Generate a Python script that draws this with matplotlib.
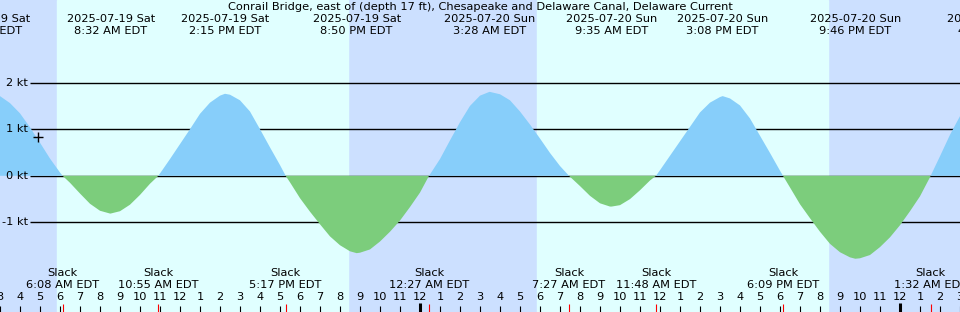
"""
Tidal current graph, Conrail Bridge (C&D Canal)
"""

from datetime import datetime, timedelta
import numpy as np
from matplotlib import pyplot as plt

TITLE = 'Conrail Bridge, east of (depth 17 ft), Chesapeake and Delaware Canal, Delaware Current'
START = datetime(2025, 7, 19, 3, 0)
SPAN_H = 48

# current every half hour from 3 AM Jul 19 (kt, + = flood)
current_kt = [
    1.71, 1.56, 1.34, 1.04, 0.71, 0.37, 0.07, -0.15, -0.38, -0.60,
    -0.75, -0.81, -0.76, -0.62, -0.41, -0.17, 0.05, 0.36, 0.68, 1.00,
    1.33, 1.57, 1.72, 1.74, 1.62, 1.38, 1.00, 0.61, 0.23, -0.14,
    -0.48, -0.77, -1.04, -1.30, -1.49, -1.62, -1.65, -1.58, -1.41, -1.20,
    -0.96, -0.67, -0.36, 0.03, 0.36, 0.76, 1.15, 1.50, 1.72, 1.80,
    1.75, 1.62, 1.38, 1.10, 0.80, 0.49, 0.21, -0.02, -0.22, -0.43,
    -0.59, -0.66, -0.63, -0.50, -0.31, -0.10, 0.12, 0.43, 0.74, 1.05,
    1.36, 1.57, 1.69, 1.66, 1.51, 1.23, 0.86, 0.49, 0.11, -0.25,
    -0.61, -0.91, -1.20, -1.46, -1.64, -1.75, -1.77, -1.70, -1.53, -1.32,
    -1.06, -0.76, -0.44, -0.03, 0.42, 0.88, 1.28,
]

extreme_times = ['2025-07-19 02:18', '2025-07-19 08:32', '2025-07-19 14:15',
                 '2025-07-19 20:50', '2025-07-20 03:28', '2025-07-20 09:35',
                 '2025-07-20 15:08', '2025-07-20 21:46', '2025-07-21 04:42']
extreme_kt = [1.76, -0.81, 1.76, -1.66, 1.80, -0.66, 1.71, -1.78, 1.75]

slack_times = ['2025-07-19 06:08', '2025-07-19 10:55', '2025-07-19 17:17',
               '2025-07-20 00:27', '2025-07-20 07:27', '2025-07-20 11:48',
               '2025-07-20 18:09', '2025-07-21 01:32']

sunrise_times = ['2025-07-19 05:50', '2025-07-20 05:50']
sunset_times = ['2025-07-19 20:24', '2025-07-20 20:24']

grid_kt = [2, 1, 0, -1]

DAY = '#e0ffff'
NIGHT = '#cce0ff'
FLOOD = '#87cefa'
EBB = '#7ccd7c'
FS = 8.2


def parse(s):
    return datetime.strptime(s, '%Y-%m-%d %H:%M')


def hrs(dt):
    return (dt - START).total_seconds() / 3600


def clock(dt):
    return dt.strftime('%I:%M %p').lstrip('0') + ' EDT'


def px(y):
    # pixel row (from top) -> axes fraction
    return 1 - y / 312


def main():
    fig = plt.figure(figsize=(9.6, 3.12), dpi=100)
    ax = fig.add_axes([0, 0, 1, 1])
    ax.set_xlim(0, SPAN_H)
    ax.set_ylim((175.8 - 312) / 46.6, 175.8 / 46.6)
    ax.axis('off')
    tr = ax.get_xaxis_transform()

    # day / night background
    ax.axvspan(0, SPAN_H, color=NIGHT, zorder=0)
    for rise, sset in zip(sunrise_times, sunset_times):
        ax.axvspan(hrs(parse(rise)), hrs(parse(sset)), color=DAY, zorder=0)

    ax.hlines(grid_kt, 1.5, SPAN_H, color='black', lw=1, zorder=1)
    for g in grid_kt:
        ax.text(1.4, g, f'{g} kt', ha='right', va='center', fontsize=FS, zorder=5)

    # curve: half-hour readings plus the event points
    ext_h = [hrs(parse(s)) for s in extreme_times]
    slack_h = [hrs(parse(s)) for s in slack_times]
    t = np.concatenate([np.arange(len(current_kt)) * 0.5, ext_h, slack_h])
    v = np.concatenate([current_kt, extreme_kt, np.zeros(len(slack_h))])
    order = np.argsort(t)
    t, v = t[order], v[order]
    ax.fill_between(t, 0, v, where=v >= 0, interpolate=True, color=FLOOD, lw=0, zorder=2)
    ax.fill_between(t, 0, v, where=v <= 0, interpolate=True, color=EBB, lw=0, zorder=2)

    ax.plot([1.9], [0.83], marker='+', color='black', ms=7, mew=1, zorder=5)

    # top: title and max/min times
    ax.text(SPAN_H / 2, px(7), TITLE, transform=tr, ha='center', va='center', fontsize=FS)
    for s in extreme_times:
        dt = parse(s)
        ax.text(hrs(dt), px(19), dt.strftime('%Y-%m-%d %a'), transform=tr,
                ha='center', va='center', fontsize=FS)
        ax.text(hrs(dt), px(31), clock(dt), transform=tr,
                ha='center', va='center', fontsize=FS)

    # bottom: slack labels
    for s in slack_times:
        dt = parse(s)
        ax.text(hrs(dt), px(273), 'Slack', transform=tr, ha='center', va='center', fontsize=FS)
        ax.text(hrs(dt), px(285), clock(dt), transform=tr, ha='center', va='center', fontsize=FS)

    # hour ticks
    for h in range(SPAN_H + 1):
        dt = START + timedelta(hours=h)
        if dt.hour == 0:
            ax.vlines(h, 0, 9 / 312, transform=tr, color='black', lw=2.2, zorder=4)
        else:
            ax.vlines(h, 0, 6 / 312, transform=tr, color='black', lw=0.8, zorder=4)
        ax.text(h, px(297), str((dt.hour - 1) % 12 + 1), transform=tr,
                ha='center', va='center', fontsize=FS)
    ax.vlines(slack_h, 0, 8 / 312, transform=tr, color='red', lw=0.8, zorder=4)

    fig.savefig('out.png', dpi=100)


if __name__ == '__main__':
    main()
